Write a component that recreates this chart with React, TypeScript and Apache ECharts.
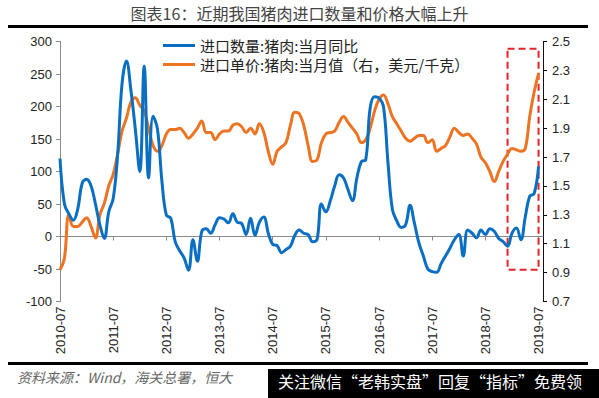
import React, { useEffect, useRef } from "react";
import * as echarts from "echarts";

// Month categories 2010-07 .. 2019-08
const START_YEAR = 2010;
const START_MONTH = 7;
const MONTH_COUNT = 110;
const categories: string[] = [];
for (let k = 0; k < MONTH_COUNT; k++) {
  const m = START_MONTH - 1 + k;
  const y = START_YEAR + Math.floor(m / 12);
  const mm = (m % 12) + 1;
  categories.push(`${y}-${String(mm).padStart(2, "0")}`);
}

// 进口数量:猪肉:当月同比 (%)
const quantityYoY = [
  120, 50, 35, 25, 42, 82, 88, 78, 50, 18,
  -3, 38, 58, 125, 235, 270, 225, 165, 100, 262,
  90, 185, 165, 85, 33, 28, -8, -22, -33, -52,
  -5, -38, 8, 12, 5, 18, 29, 27, 21, 35,
  22, 20, 3, 28, 2, 22, 30, 5, -12, -14,
  -25, -20, -15, 2, 10, 5, 3, -8, -5, 50,
  38, 55, 78, 95, 90, 72, 55, 90, 115, 118,
  198, 215, 213, 200, 115, 42, 24, 14, 18, 48,
  20, -10, -30, -50, -54, -55, -42, -30, -18, -5,
  3, -30, 10, 5, -2, 10, 3, 12, 8, -3,
  -8, -15, 5, 13, -5, 30, 62, 66, 108,
];

// 进口单价:猪肉:当月值 (美元/千克)
const unitPrice = [
  0.92, 1.0, 1.3, 1.22, 1.22, 1.25, 1.28, 1.22, 1.14, 1.3,
  1.38, 1.5, 1.58, 1.72, 1.88, 1.97, 2.08, 2.11, 2.06, 2.02,
  1.9, 1.78, 1.74, 1.78, 1.86, 1.89, 1.89, 1.9, 1.87, 1.83,
  1.86, 1.9, 1.95, 1.87, 1.87, 1.82, 1.86, 1.88, 1.88, 1.92,
  1.93, 1.91, 1.87, 1.9, 1.86, 1.93, 1.87, 1.74, 1.65, 1.74,
  1.77, 1.8, 1.92, 2.01, 2.0, 1.92, 1.78, 1.67, 1.68, 1.8,
  1.86, 1.87, 1.88, 1.94, 1.98, 1.94, 1.9, 1.86, 1.8, 1.82,
  1.9, 2.02, 2.1, 2.13, 2.07, 1.98, 1.93, 1.88, 1.83, 1.81,
  1.83, 1.85, 1.85, 1.8, 1.82, 1.74, 1.76, 1.78, 1.84, 1.9,
  1.87, 1.85, 1.86, 1.83, 1.79, 1.7, 1.66, 1.6, 1.53, 1.6,
  1.67, 1.72, 1.76, 1.75, 1.74, 1.76, 1.98, 2.15, 2.28,
];

const LEFT_MIN = -100;
const LEFT_MAX = 300;
const LEFT_STEP = 50;
const RIGHT_MIN = 0.7;
const RIGHT_MAX = 2.5;
const RIGHT_STEP = 0.2;
const LABEL_EVERY = 12;

// Highlight box (dashed) range
const highlightFrom = "2018-12";
const highlightTo = "2019-07";
const highlightTop = 2.45;
const highlightBottom = 0.92;

const TITLE = "图表16：近期我国猪肉进口数量和价格大幅上升";
const SERIES_QTY = "进口数量:猪肉:当月同比";
const SERIES_PRICE = "进口单价:猪肉:当月值（右，美元/千克）";
const SOURCE = "资料来源：Wind，海关总署，恒大";
const WATERMARK = "关注微信“老韩实盘”回复“指标”免费领";

const BLUE = "#0a6fc2";
const ORANGE = "#ec7422";
const CJK = "'Noto Sans CJK SC', sans-serif";
const LATIN = "'Liberation Sans', Arial, sans-serif";

export default function App() {
  const ref = useRef<HTMLDivElement>(null);
  useEffect(() => {
    if (!ref.current) return;
    const chart = echarts.init(ref.current, undefined, { renderer: "svg" });
    const showEvery = (i: number) => i % LABEL_EVERY === 0;
    chart.setOption({
      animation: false,
      backgroundColor: "#ffffff",
      grid: { left: 60, right: 56, top: 41.5, bottom: 96.5, containLabel: false },
      legend: {
        orient: "vertical",
        left: 158,
        top: 33,
        itemGap: 4,
        itemWidth: 32,
        itemHeight: 3,
        icon: "rect",
        textStyle: { fontFamily: CJK, fontSize: 15, color: "#222" },
        data: [
          { name: SERIES_QTY, itemStyle: { color: BLUE } },
          { name: SERIES_PRICE, itemStyle: { color: ORANGE } },
        ],
      },
      xAxis: [
        {
          type: "category",
          data: categories,
          boundaryGap: false,
          axisLine: { show: true, onZero: true, onZeroAxisIndex: 0, lineStyle: { color: "#8a8a8a", width: 1 } },
          axisTick: { show: true, interval: showEvery, length: 4, lineStyle: { color: "#8a8a8a" } },
          axisLabel: { show: false },
          splitLine: { show: false },
        },
        {
          type: "category",
          data: categories,
          boundaryGap: false,
          position: "bottom",
          axisLine: { show: false, onZero: false },
          axisTick: { show: false },
          axisLabel: {
            interval: showEvery,
            rotate: 90,
            fontSize: 13,
            fontFamily: LATIN,
            color: "#222",
            margin: 5,
          },
          splitLine: { show: false },
        },
      ],
      yAxis: [
        {
          type: "value",
          min: LEFT_MIN,
          max: LEFT_MAX,
          interval: LEFT_STEP,
          position: "left",
          axisLine: { show: true, lineStyle: { color: "#8a8a8a" } },
          axisTick: { show: true, length: 4, lineStyle: { color: "#8a8a8a" } },
          axisLabel: { fontSize: 13, fontFamily: LATIN, color: "#222", margin: 8 },
          splitLine: { show: false },
        },
        {
          type: "value",
          min: RIGHT_MIN,
          max: RIGHT_MAX,
          interval: RIGHT_STEP,
          position: "right",
          axisLine: { show: true, lineStyle: { color: "#111" } },
          axisTick: { show: true, length: 4, lineStyle: { color: "#111" } },
          axisLabel: {
            fontSize: 13,
            fontFamily: LATIN,
            color: "#222",
            margin: 9,
            formatter: (v: number) => v.toFixed(1),
          },
          splitLine: { show: false },
        },
      ],
      series: [
        {
          name: SERIES_QTY,
          type: "line",
          xAxisIndex: 0,
          yAxisIndex: 0,
          data: quantityYoY,
          smooth: 0.4,
          showSymbol: false,
          lineStyle: { color: BLUE, width: 3 },
          itemStyle: { color: BLUE },
          z: 3,
        },
        {
          name: SERIES_PRICE,
          type: "line",
          xAxisIndex: 0,
          yAxisIndex: 1,
          data: unitPrice,
          smooth: 0.4,
          showSymbol: false,
          lineStyle: { color: ORANGE, width: 3 },
          itemStyle: { color: ORANGE },
          z: 2,
          markArea: {
            silent: true,
            itemStyle: {
              color: "rgba(0,0,0,0)",
              borderColor: "#e3242b",
              borderWidth: 2,
              borderType: [7, 4],
            },
            data: [
              [
                { xAxis: highlightFrom, yAxis: highlightTop },
                { xAxis: highlightTo, yAxis: highlightBottom },
              ],
            ],
          },
        },
      ],
      graphic: [
        {
          type: "text",
          left: "center",
          top: 5,
          style: { text: TITLE, fontFamily: CJK, fontSize: 16, fill: "#444" },
        },
        { type: "rect", shape: { x: 8, y: 25, width: 580, height: 3 }, style: { fill: "#000" } },
        { type: "rect", shape: { x: 8, y: 362, width: 580, height: 3 }, style: { fill: "#000" } },
        {
          type: "text",
          x: 17,
          y: 370,
          style: { text: SOURCE, fontFamily: CJK, fontSize: 14, fontStyle: "italic", fill: "#666" },
        },
        { type: "rect", shape: { x: 268, y: 369, width: 331, height: 29 }, style: { fill: "#000" } },
        {
          type: "text",
          x: 278,
          y: 373,
          style: { text: WATERMARK, fontFamily: CJK, fontSize: 16, fill: "#fff" },
        },
      ],
    });
    return () => chart.dispose();
  }, []);
  return (
    <div
      ref={ref}
      style={{ position: "fixed", left: 0, top: 0, width: 599, height: 398, background: "#fff" }}
    />
  );
}
